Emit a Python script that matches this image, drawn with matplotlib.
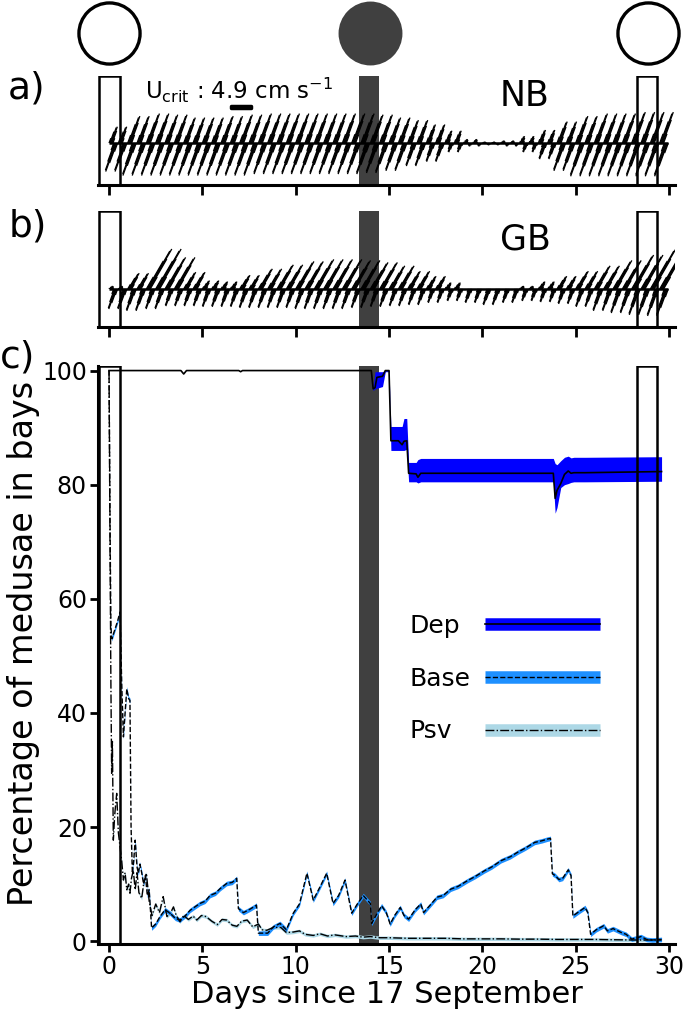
import numpy as np
import matplotlib
matplotlib.use('Agg')
import matplotlib.pyplot as plt
from matplotlib.lines import Line2D

# phases de lune (jours) et périodes encadrées
moon_days = [0.0, 14.0, 28.9]
moon_filled = [False, True, False]
box_periods = [(-0.55, 0.6), (28.3, 29.35)]
dark_period = (13.4, 14.45)

# enveloppes des courants (cm/s), une valeur par jour, jours 0-29
nb_flood = [4.5, 7.4, 8.1, 7.8, 7.0, 7.0, 7.4, 7.8, 8.1, 8.1, 8.1, 8.1, 8.1, 8.1, 7.8,
            7.0, 6.3, 5.1, 3.4, 1.1, 0.4, 0.7, 1.9, 3.6, 5.9, 7.4, 8.1, 8.1, 8.5, 8.5]
nb_ebb = [7.8, 8.9, 8.9, 8.9, 8.9, 8.9, 8.9, 8.9, 8.5, 8.5, 8.5, 8.5, 8.5, 8.5, 8.2,
          7.6, 6.3, 5.1, 2.5, 0.9, 0.6, 0.9, 2.5, 4.4, 7.6, 9.1, 9.1, 9.1, 9.1, 9.1]
gb_flood = [0.9, 4.7, 11.9, 9.4, 5.0, 2.5, 2.2, 4.1, 6.0, 7.2, 8.2, 8.8, 8.8, 8.5, 7.9,
            6.9, 5.3, 3.8, 1.9, 0.0, 0.0, 0.0, 0.9, 2.2, 3.8, 5.3, 6.9, 8.5, 10.1, 11.9]
gb_ebb = [5.5, 6.0, 5.5, 4.7, 4.7, 4.9, 4.9, 5.2, 5.2, 5.2, 5.5, 5.5, 5.5, 5.2, 4.9,
          4.7, 4.4, 3.8, 3.3, 3.8, 4.4, 3.8, 3.3, 3.6, 4.1, 4.9, 6.0, 6.6, 7.1, 7.4]
# un cycle de marée semi-diurne, pas horaire (fraction de l'enveloppe)
tide_shape = [0.3, 0.7, 0.95, 1.0, 0.75, 0.3, -0.25, -0.65, -0.95, -1.0, -0.7, -0.3]
nb_dir = (70, 250)   # direction flot / jusant (degrés)
gb_dir = (60, 250)
u_crit = 4.9

# pourcentage de méduses dans les baies
dep_t = [0.0, 3.85, 4.0, 4.15, 6.95, 7.05, 7.15, 14.05, 14.15, 14.25, 14.35, 14.65, 14.8,
         15.0, 15.1, 15.5, 15.7, 15.8, 15.95, 16.05, 16.45, 16.55, 16.7, 23.8, 23.9, 24.0,
         24.2, 24.4, 24.6, 24.75, 24.9, 25.5, 29.6]
dep_mean = [100.0, 100.0, 99.4, 100.0, 100.0, 99.8, 100.0, 100.0, 96.8, 97.0, 98.8, 99.0,
            100.0, 100.0, 87.7, 87.7, 87.0, 87.6, 87.7, 82.0, 81.9, 81.3, 82.0, 82.0, 77.6,
            79.0, 80.2, 81.8, 82.4, 82.0, 82.1, 82.1, 82.3]
dep_lo = [100.0, 100.0, 99.4, 100.0, 100.0, 99.8, 100.0, 100.0, 96.5, 96.8, 96.9, 97.2,
          99.8, 99.8, 86.0, 86.0, 86.0, 86.0, 86.2, 80.5, 80.5, 80.3, 80.5, 80.5, 75.0,
          76.0, 79.5, 80.0, 80.2, 80.4, 80.5, 80.5, 80.6]
dep_hi = [100.0, 100.0, 99.4, 100.0, 100.0, 99.8, 100.0, 100.0, 97.2, 99.8, 99.8, 99.8,
          100.0, 100.0, 90.2, 90.2, 90.2, 91.6, 91.6, 83.9, 83.9, 84.4, 84.6, 84.6, 83.7,
          83.5, 84.2, 84.8, 85.0, 84.7, 84.8, 84.8, 84.9]

base_t = [0.0, 0.05, 0.1, 0.15, 0.3, 0.45, 0.59, 0.68, 0.77, 0.86, 0.95, 1.05, 1.12, 1.18,
          1.25, 1.32, 1.4, 1.5, 1.57, 1.65, 1.75, 1.85, 1.95, 2.05, 2.15, 2.28, 2.5, 2.73,
          3.0, 3.27, 3.55, 3.8, 4.1, 4.34, 4.6, 4.87, 5.15, 5.41, 5.7, 5.95, 6.3, 6.6, 6.84,
          6.93, 7.2, 7.55, 7.9, 8.0, 8.5, 8.8, 9.16, 9.5, 9.87, 10.2, 10.6, 10.94, 11.3,
          11.66, 12.0, 12.3, 12.64, 13.0, 13.3, 13.62, 14.0, 14.07, 14.3, 14.6, 14.85, 15.06,
          15.3, 15.6, 15.8, 16.05, 16.4, 16.7, 16.85, 17.2, 17.57, 17.9, 18.3, 18.7, 19.2,
          19.6, 20.1, 20.5, 21.0, 21.5, 21.9, 22.3, 22.8, 23.2, 23.5, 23.65, 23.75, 23.9,
          24.1, 24.3, 24.6, 24.75, 24.85, 25.1, 25.5, 25.65, 25.8, 26.1, 26.5, 26.7, 27.0,
          27.45, 27.7, 28.0, 28.5, 28.8, 29.1, 29.6]
base_val = [100.0, 75.0, 55.0, 53.0, 54.5, 56.0, 57.7, 45.0, 35.8, 40.0, 44.2, 42.5, 42.2,
            20.0, 11.9, 14.0, 17.7, 13.0, 11.9, 13.5, 12.0, 10.0, 11.5, 8.0, 9.0, 2.3, 3.0,
            4.3, 5.5, 4.9, 4.0, 3.7, 4.5, 5.4, 6.0, 6.6, 7.0, 8.0, 8.4, 9.2, 10.1, 10.3, 11.0,
            5.7, 5.0, 5.6, 6.3, 1.4, 1.4, 2.5, 3.1, 2.0, 4.9, 6.5, 11.9, 7.2, 9.5, 11.9, 6.6,
            8.0, 10.7, 4.9, 6.5, 8.0, 6.6, 3.1, 4.5, 6.2, 5.0, 3.0, 4.5, 5.9, 4.5, 3.85, 5.5,
            6.5, 5.0, 6.3, 7.7, 8.0, 9.1, 9.6, 10.6, 11.3, 12.3, 13.0, 14.1, 14.8, 15.6, 16.3,
            17.3, 17.6, 17.9, 18.0, 11.8, 11.5, 10.8, 11.0, 12.5, 11.5, 4.4, 5.0, 5.9, 5.0,
            1.2, 2.0, 2.7, 1.8, 2.2, 1.5, 1.2, 0.35, 0.8, 0.3, 0.2, 0.3]
base_err = 0.4

psv_t = [0.0, 0.05, 0.1, 0.14, 0.18, 0.23, 0.3, 0.41, 0.5, 0.59, 0.68, 0.77, 0.86, 0.95,
         1.05, 1.12, 1.2, 1.3, 1.4, 1.5, 1.6, 1.75, 1.85, 2.0, 2.15, 2.3, 2.5, 2.7, 2.9, 3.1,
         3.3, 3.45, 3.6, 3.8, 4.0, 4.25, 4.5, 4.7, 4.95, 5.2, 5.5, 5.8, 6.05, 6.3, 6.6, 6.85,
         7.1, 7.4, 7.7, 8.0, 8.2, 8.45, 8.8, 9.2, 9.5, 9.87, 10.2, 10.5, 10.94, 11.3, 11.7,
         12.1, 12.7, 13.2, 13.6, 14.0, 14.5, 15.0, 16.0, 17.0, 18.0, 19.0, 20.0, 21.0, 22.0,
         23.0, 24.0, 25.0, 26.0, 27.0, 28.0, 29.0, 29.6]
psv_val = [100.0, 70.0, 45.0, 29.4, 35.0, 17.7, 22.0, 25.9, 19.0, 16.5, 14.0, 10.7, 12.0,
           9.0, 10.0, 8.4, 11.0, 12.4, 9.0, 12.0, 8.5, 7.5, 10.0, 11.9, 7.0, 4.5, 6.5, 5.0,
           7.8, 4.3, 5.0, 6.0, 4.5, 3.4, 4.5, 3.8, 4.4, 3.7, 4.5, 4.3, 3.5, 2.9, 3.8, 3.7,
           2.8, 2.6, 3.5, 3.7, 2.5, 3.0, 2.0, 1.9, 2.4, 2.4, 1.5, 1.6, 1.8, 1.2, 1.0, 1.3,
           0.9, 1.1, 0.8, 0.9, 0.7, 0.8, 0.6, 0.6, 0.5, 0.5, 0.5, 0.4, 0.4, 0.4, 0.35, 0.35,
           0.3, 0.3, 0.3, 0.25, 0.2, 0.2, 0.2]
psv_err = 0.3

XLIM = (-0.59, 30.32)
DARK = '#404040'
LEFT, WIDTH = 0.1431, 0.8423


def sticks(flood, ebb, dirs):
    t, u, v = [], [], []
    n = len(tide_shape)
    for d in range(len(flood)):
        for k in range(24):
            f = tide_shape[k % n]
            if f > 0:
                s, a = flood[d] * f, np.radians(dirs[0])
            else:
                s, a = -ebb[d] * f, np.radians(dirs[1])
            t.append(d + k / 24)
            u.append(s * np.cos(a))
            v.append(s * np.sin(a))
    return np.array(t), np.array(u), np.array(v)


def stick_panel(ax, flood, ebb, dirs, ylim, name, name_y):
    for a, b in box_periods:
        ax.axvspan(a, b, fill=False, ec='k', lw=1.8, zorder=3)
    ax.axvspan(*dark_period, color=DARK, lw=0, zorder=1)
    t, u, v = sticks(flood, ebb, dirs)
    q = ax.quiver(t, np.zeros_like(t), u, v, angles='uv', scale_units='y', scale=1,
                  units='dots', width=1.3, headwidth=0, headlength=0, headaxislength=0,
                  minlength=0, color='k', zorder=2)
    ax.hlines(0, t[0], t[-1], color='k', lw=1.8, zorder=2)
    ax.set_xlim(XLIM)
    ax.set_ylim(ylim)
    for s in ['left', 'right', 'top']:
        ax.spines[s].set_visible(False)
    ax.spines['bottom'].set_linewidth(2.2)
    ax.set_yticks([])
    ax.set_xticks(range(0, 31, 5))
    ax.tick_params(axis='x', labelbottom=False, length=7, width=2)
    ax.text(0.74, name_y, name, transform=ax.transAxes, fontsize=25, ha='center', va='center')
    return q


fig = plt.figure(figsize=(6.85, 10.18), dpi=100)

# lunes
axm = fig.add_axes([LEFT, 1 - 66 / 1018, WIDTH, 66 / 1018])
axm.set_xlim(XLIM)
axm.set_ylim(-1, 1)
axm.axis('off')
for d, filled in zip(moon_days, moon_filled):
    if filled:
        axm.plot(d, 0, 'o', ms=46, mfc=DARK, mec=DARK, mew=0, clip_on=False)
    else:
        axm.plot(d, 0, 'o', ms=44, mfc='white', mec='k', mew=2.4, clip_on=False)

# a) NB
ax_a = fig.add_axes([LEFT, 1 - 185 / 1018, WIDTH, 109 / 1018])
q = stick_panel(ax_a, nb_flood, nb_ebb, nb_dir, (-10.8, 17.3), 'NB', 0.82)
ax_a.text(0.081, 0.87, r'U$_{\mathrm{crit}}$ : 4.9 cm s$^{-1}$', transform=ax_a.transAxes,
          fontsize=16.5, ha='left', va='center')
ax_a.quiverkey(q, 0.247, 0.72, u_crit, '', coordinates='axes', labelpos='N',
               linewidth=2.5, edgecolor='k')

# b) GB
ax_b = fig.add_axes([LEFT, 1 - 327 / 1018, WIDTH, 116 / 1018])
stick_panel(ax_b, gb_flood, gb_ebb, gb_dir, (-9.8, 20.1), 'GB', 0.75)

# c) pourcentage
ax_c = fig.add_axes([LEFT, 1 - 944 / 1018, WIDTH, 578 / 1018])
for a, b in box_periods:
    ax_c.axvspan(a, b, fill=False, ec='k', lw=1.8, zorder=3)
ax_c.axvspan(*dark_period, color=DARK, lw=0, zorder=1)

base_val = np.array(base_val)
psv_val = np.array(psv_val)
ax_c.fill_between(psv_t, psv_val - psv_err, psv_val + psv_err, color='lightblue', lw=0, zorder=2)
ax_c.plot(psv_t, psv_val, color='k', ls='-.', lw=1.0, zorder=4)
ax_c.fill_between(base_t, base_val - base_err, base_val + base_err, color='dodgerblue', lw=0, zorder=2)
ax_c.plot(base_t, base_val, color='k', ls='--', lw=1.0, zorder=4)
ax_c.fill_between(dep_t, dep_lo, dep_hi, color='blue', lw=0, zorder=2)
ax_c.plot(dep_t, dep_mean, color='k', ls='-', lw=1.2, zorder=4)

ax_c.set_xlim(XLIM)
ax_c.set_ylim(-0.5, 100.8)
ax_c.set_xticks(range(0, 31, 5))
ax_c.set_yticks(range(0, 101, 20))
for s in ['right', 'top']:
    ax_c.spines[s].set_visible(False)
for s in ['left', 'bottom']:
    ax_c.spines[s].set_linewidth(2.2)
ax_c.tick_params(labelsize=17, length=6, width=2, pad=2)
ax_c.set_xlabel('Days since 17 September', fontsize=22)
ax_c.set_ylabel('Percentage of medusae in bays', fontsize=24)
ax_c.xaxis.set_label_coords(0.5, -0.063)
ax_c.yaxis.set_label_coords(-0.1005, 0.52)

band_kw = dict(lw=9, solid_capstyle='butt')
h_dep = (Line2D([], [], color='blue', **band_kw), Line2D([], [], color='k', lw=1.2))
h_base = (Line2D([], [], color='dodgerblue', **band_kw), Line2D([], [], color='k', ls='--', lw=1.0))
h_psv = (Line2D([], [], color='lightblue', **band_kw), Line2D([], [], color='k', ls='-.', lw=1.0))
leg = ax_c.legend([h_dep, h_base, h_psv], ['Dep', 'Base', 'Psv'], markerfirst=False,
                  frameon=False, fontsize=18, handlelength=4.6, handletextpad=0.6,
                  labelspacing=1.15, loc='upper left', bbox_to_anchor=(0.5, 0.61))

# textes de la légende alignés à gauche, poignées alignées à droite
fig.canvas.draw()
renderer = fig.canvas.get_renderer()
col = leg._legend_handle_box.get_children()[0]
col.align = 'left'
widths = [t.get_window_extent(renderer).width for t in leg.get_texts()]
for row, w in zip(col.get_children(), widths):
    row.sep = 0.6 * 18 + (max(widths) - w) * 72 / fig.dpi

fig.text(0.012, 1 - 88 / 1018, 'a)', fontsize=27, va='center')
fig.text(0.012, 1 - 226 / 1018, 'b)', fontsize=27, va='center')
fig.text(0.0, 1 - 358 / 1018, 'c)', fontsize=27, va='center')

fig.savefig('out.png', dpi=100)
